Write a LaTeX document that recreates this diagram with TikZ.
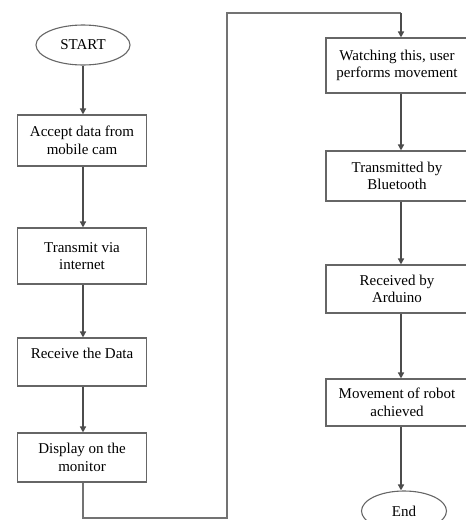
\documentclass[tikz,border=0pt]{standalone}
\usepackage{fontspec}
\setmainfont{Liberation Serif}
\usetikzlibrary{arrows.meta,shapes.geometric}
\begin{document}
\begin{tikzpicture}[x=1pt,y=-1pt,
  box/.style={draw=black!60, line width=1.1pt, rectangle, align=center,
    font=\fontsize{15}{17.5}\selectfont, inner sep=2pt},
  term/.style={draw=black!60, line width=1.1pt, ellipse, inner sep=0pt,
    font=\fontsize{15}{17.5}\selectfont},
  flow/.style={draw=black!70, line width=1.5pt, -{Triangle[width=6pt,length=6pt]}},
  link/.style={draw=black!55, line width=1.5pt}]
\useasboundingbox (0,0) rectangle (466,520);
% left column
\node[term, minimum width=94pt, minimum height=40pt] (start) at (83,45) {START};
\node[box, minimum width=129pt, minimum height=51pt] (b1) at (82,140.5) {Accept data from\\mobile cam};
\node[box, minimum width=129pt, minimum height=56pt] (b2) at (82,256) {Transmit via\\internet};
\node[box, minimum width=129pt, minimum height=48pt] (b3) at (82,362) {Receive the Data\\\mbox{}};
\node[box, minimum width=129pt, minimum height=49pt] (b4) at (82,457.5) {Display on the\\monitor};
% right column
\node[box, minimum width=150pt, minimum height=55pt] (b5) at (401,65.5) {\hspace*{-8pt}Watching this, user\\\hspace*{-8pt}performs movement};
\node[box, minimum width=150pt, minimum height=50pt] (b6) at (401,176) {\hspace*{-8pt}Transmitted by\\\hspace*{-8pt}Bluetooth};
\node[box, minimum width=150pt, minimum height=48pt] (b7) at (401,289) {\hspace*{-8pt}Received by\\\hspace*{-8pt}Arduino};
\node[box, minimum width=150pt, minimum height=47pt] (b8) at (401,402.5) {\hspace*{-8pt}Movement of robot\\\hspace*{-8pt}achieved};
\node[term, minimum width=85pt, minimum height=40pt] (end) at (404,511) {End};
% connectors
\draw[flow] (start.south) -- (start.south |- b1.north);
\draw[flow] (b1.south -| start.south) -- (b2.north -| start.south);
\draw[flow] (b2.south -| start.south) -- (b3.north -| start.south);
\draw[flow] (b3.south -| start.south) -- (b4.north -| start.south);
\coordinate (c1) at (83,518);
\coordinate (c2) at (227,518);
\coordinate (c3) at (227,13);
\coordinate (c4) at (401,13);
\draw[link] (b4.south -| start.south) -- (c1) -- (c2) -- (c3) -- (c4);
\draw[flow] (c4) -- (b5.north);
\draw[flow] (b5.south) -- (b6.north);
\draw[flow] (b6.south) -- (b7.north);
\draw[flow] (b7.south) -- (b8.north);
\draw[flow] (b8.south) -- (end.north -| b8.south);
\end{tikzpicture}
\end{document}
